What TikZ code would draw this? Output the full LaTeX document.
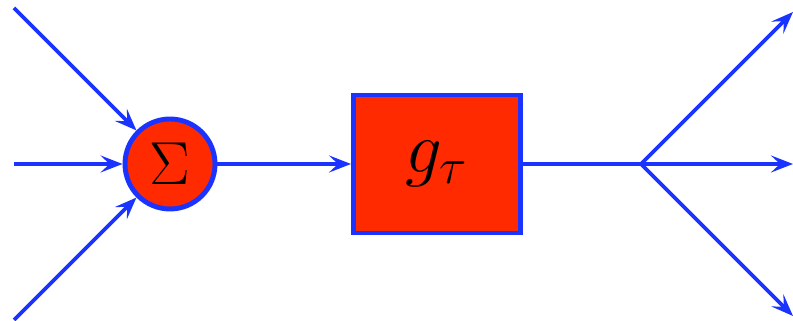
\documentclass[tikz,border=0pt]{standalone}
\usepackage{amsmath,amssymb}
\usepackage{xcolor}
\usepackage{tikz}
\usetikzlibrary{arrows.meta,positioning}
\definecolor{bluex}{HTML}{1A33FF}
\definecolor{redx}{HTML}{FF2A00}
\tikzset{
  ar/.style={-{Stealth[length=2.2mm,width=1.7mm,inset=0.9mm]},line width=1.1pt,bluex},
  ln/.style={line width=1.1pt,bluex},
  sumnode/.style={circle,draw=bluex,line width=1.4pt,fill=redx,minimum size=0.9cm,inner sep=0pt,font=\LARGE},
  blk/.style={rectangle,draw=bluex,line width=1.4pt,fill=redx,minimum width=1.67cm,minimum height=1.38cm,font=\huge}
}

\begin{document}
\begin{tikzpicture}
\useasboundingbox (0,0) rectangle (7.93,3.21);
\node[sumnode] (sum) at (1.70,1.57) {$\Sigma$};
\node[blk] (gt) at (4.37,1.57) {$g_\tau$};
\coordinate (in1) at (0.14,3.13);
\coordinate (in2) at (0.14,1.57);
\coordinate (in3) at (0.14,0.01);
\coordinate (br) at (6.41,1.57);
\coordinate (out1) at (7.93,3.09);
\coordinate (out2) at (7.93,1.57);
\coordinate (out3) at (7.93,0.05);
\foreach \i in {1,2,3}
  \draw[ar] (in\i) -- (sum);
\draw[ar] (sum) -- (gt);
\draw[ln] (gt) -- (br);
\foreach \i in {1,2,3}
  \draw[ar] (br) -- (out\i);
\end{tikzpicture}
\end{document}
